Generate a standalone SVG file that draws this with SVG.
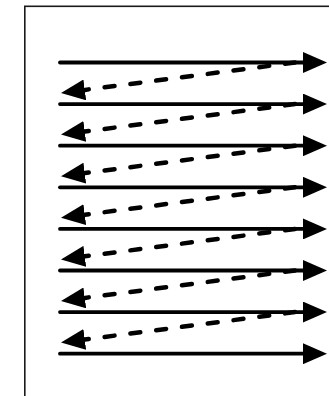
<svg xmlns="http://www.w3.org/2000/svg" width="329" height="396" viewBox="0 0 329 396">
<defs>
<style>
.solid{stroke:#000;stroke-width:3.8;fill:none;stroke-linecap:round}
.dash{stroke:#000;stroke-width:4.5;fill:none;stroke-linecap:round;stroke-dasharray:10 16}
.frame{fill:none;stroke:#1a1a1a;stroke-width:1.6}
</style>
<marker id="ah" viewBox="0 0 24 21" refX="0" refY="10.5" markerUnits="userSpaceOnUse" markerWidth="24" markerHeight="21" orient="auto">
<path d="M0,0 L24,10.5 L0,21 z" fill="#000"/>
</marker>
</defs>
<rect width="329" height="396" fill="#fff"/>
<g id="frame"><rect class="frame" x="24.8" y="6.3" width="330" height="400"/></g>
<g id="connectors">
<line class="solid" x1="60" y1="62.5" x2="303" y2="62.5" marker-end="url(#ah)"/>
<line class="solid" x1="60" y1="104.1" x2="303" y2="104.1" marker-end="url(#ah)"/>
<line class="solid" x1="60" y1="145.7" x2="303" y2="145.7" marker-end="url(#ah)"/>
<line class="solid" x1="60" y1="187.3" x2="303" y2="187.3" marker-end="url(#ah)"/>
<line class="solid" x1="60" y1="228.9" x2="303" y2="228.9" marker-end="url(#ah)"/>
<line class="solid" x1="60" y1="270.5" x2="303" y2="270.5" marker-end="url(#ah)"/>
<line class="solid" x1="60" y1="312.1" x2="303" y2="312.1" marker-end="url(#ah)"/>
<line class="solid" x1="60" y1="353.7" x2="303" y2="353.7" marker-end="url(#ah)"/>
<line class="dash" x1="295" y1="62.5" x2="84.8" y2="89.9" marker-end="url(#ah)"/>
<line class="dash" x1="295" y1="104.1" x2="84.8" y2="131.5" marker-end="url(#ah)"/>
<line class="dash" x1="295" y1="145.7" x2="84.8" y2="173.1" marker-end="url(#ah)"/>
<line class="dash" x1="295" y1="187.3" x2="84.8" y2="214.7" marker-end="url(#ah)"/>
<line class="dash" x1="295" y1="228.9" x2="84.8" y2="256.3" marker-end="url(#ah)"/>
<line class="dash" x1="295" y1="270.5" x2="84.8" y2="297.9" marker-end="url(#ah)"/>
<line class="dash" x1="295" y1="312.1" x2="84.8" y2="339.5" marker-end="url(#ah)"/>
</g>
</svg>
